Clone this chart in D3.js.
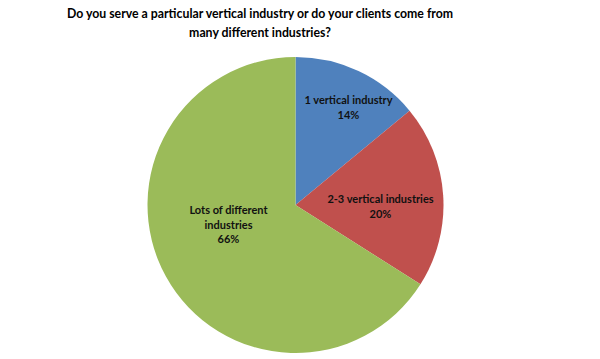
<!DOCTYPE html>
<html><head><meta charset="utf-8">
<script src="https://cdn.jsdelivr.net/npm/d3@7"></script>
<style>body{margin:0;background:#fff}svg{display:block}</style>
</head><body>
<svg id="c" width="600" height="359"></svg>
<script>
const categories = ["1 vertical industry", "2-3 vertical industries", "Lots of different industries"];
const values = [14, 20, 66];
const colors = ["#4F81BD", "#C0504D", "#9BBB59"];
const labelLines = [["1 vertical industry", "14%"], ["2-3 vertical industries", "20%"], ["Lots of different", "industries", "66%"]];
const titleLines = ["Do you serve a particular vertical industry or do your clients come from", "many different industries?"];

const svg = d3.select("#c");
const font = "Lato, 'Open Sans', sans-serif";
const cx = 295.5, cy = 205, r = 148;

const pie = d3.pie().sort(null).value(d => d)(values);
const arc = d3.arc().innerRadius(0).outerRadius(r);
const g = svg.append("g").attr("transform", `translate(${cx},${cy})`);
g.selectAll("path").data(pie).join("path")
  .attr("d", arc).attr("fill", (d, i) => colors[i]);

const labelPos = [[53, -101], [85, -2], [-67, 9]];
pie.forEach((d, i) => {
  const t = g.append("text").attr("text-anchor", "middle")
    .attr("font-family", font).attr("font-weight", "bold").attr("font-size", 11)
    .attr("fill", "#111");
  labelLines[i].forEach((l, j) => {
    t.append("tspan").attr("x", labelPos[i][0]).attr("y", labelPos[i][1] + j * 14.5).text(l);
  });
});

const tt = svg.append("text").attr("text-anchor", "middle")
  .attr("font-family", font).attr("font-weight", "bold").attr("font-size", 12.3).attr("fill", "#000");
titleLines.forEach((l, j) => tt.append("tspan").attr("x", 260).attr("y", 18 + j * 19).text(l));
</script>
</body></html>
